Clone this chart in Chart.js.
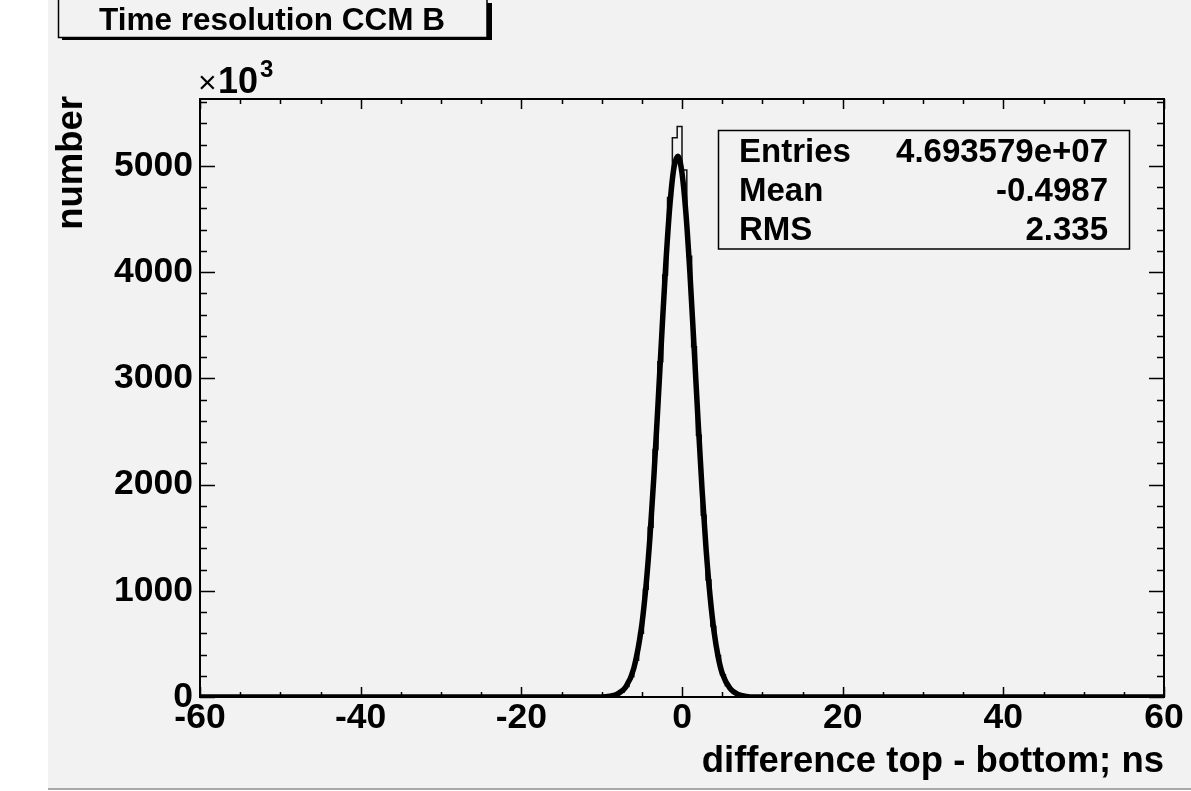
<!DOCTYPE html>
<html>
<head>
<meta charset="utf-8">
<script src="https://cdn.jsdelivr.net/npm/chart.js@4.4.0/dist/chart.umd.min.js"></script>
<style>
  html, body { margin: 0; padding: 0; background: #fff; }
  #pad { position: absolute; left: 48px; top: 0; width: 1143px; height: 788px;
         background: #f2f2f2; border-bottom: 2px solid #a9a9a9; }
  #c { position: absolute; left: 0; top: 0; }
</style>
</head>
<body>
<div id="pad"></div>
<canvas id="c" width="1191" height="791"></canvas>
<script>
// histogram: 0.6 ns bins, only the filled region (everything else is 0)
const binStart = -9.0
const binWidth = 0.6
const counts = [10, 22, 48, 100, 190, 345, 600, 1015, 1598, 2331, 3157, 3972, 4702, 5266, 5370,
                4962, 4150, 3298, 2465, 1710, 1102, 665, 390, 210, 105, 55, 25, 12, 5]

// gaussian fit
const fitX = [-60, -10, -9, -8, -7, -6, -5, -4.5, -4, -3.5, -3, -2.5, -2, -1.5, -1, -0.5,
              0, 0.5, 1, 1.5, 2, 2.5, 3, 3.5, 4, 4.5, 5, 6, 7, 8, 9, 60]
const fitY = [0, 0, 8, 30, 95, 270, 680, 1030, 1495, 2075, 2740, 3436, 4097, 4637, 4985, 5090,
              4933, 4542, 3972, 3298, 2600, 1950, 1390, 945, 610, 378, 225, 78, 24, 6, 0, 0]

const xTicks = [-60, -40, -20, 0, 20, 40, 60]
const yTicks = [0, 1000, 2000, 3000, 4000, 5000]

const title = 'Time resolution CCM B'
const statNames = ['Entries', 'Mean', 'RMS']
const statValues = ['4.693579e+07', '-0.4987', '2.335']

const FONT = '"Liberation Sans", Arial, Helvetica, sans-serif'

// step points for the histogram outline (value held from left edge to next edge)
const histPts = [{ x: -60, y: 0 }]
counts.forEach((c, i) => histPts.push({ x: binStart + i * binWidth, y: c }))
histPts.push({ x: binStart + counts.length * binWidth, y: 0 })
histPts.push({ x: 60, y: 0 })

const fitPts = fitX.map((x, i) => ({ x, y: fitY[i] }))

const rootDecor = {
    id: 'rootDecor',
    afterDatasetsDraw(chart) {
        const { ctx, chartArea: a, scales: { x, y } } = chart
        ctx.save()
        ctx.strokeStyle = '#000'
        ctx.lineWidth = 2
        ctx.strokeRect(a.left, a.top, a.right - a.left, a.bottom - a.top)

        // inward ticks on all four sides
        ctx.lineWidth = 1.5
        ctx.beginPath()
        for (let v = -60; v <= 60; v += 5) {
            const px = Math.round(x.getPixelForValue(v)) + 0.5
            const len = xTicks.includes(v) ? 10 : 5
            ctx.moveTo(px, a.bottom); ctx.lineTo(px, a.bottom - len)
            ctx.moveTo(px, a.top); ctx.lineTo(px, a.top + len)
        }
        for (let v = 0; v <= y.max; v += 200) {
            const py = Math.round(y.getPixelForValue(v)) + 0.5
            const len = yTicks.includes(v) ? 15 : 7
            ctx.moveTo(a.left, py); ctx.lineTo(a.left + len, py)
            ctx.moveTo(a.right, py); ctx.lineTo(a.right - len, py)
        }
        ctx.stroke()
        ctx.restore()
    },
    afterDraw(chart) {
        const { ctx, chartArea: a } = chart
        ctx.save()
        ctx.fillStyle = '#000'

        // title box with shadow
        ctx.fillRect(62, 3, 430, 37)
        ctx.fillStyle = '#f2f2f2'
        ctx.fillRect(58, -2, 429, 39)
        ctx.strokeStyle = '#000'
        ctx.lineWidth = 1.5
        ctx.strokeRect(58.5, -2, 428.5, 39.5)
        ctx.fillStyle = '#000'
        ctx.font = `bold 31.5px ${FONT}`
        ctx.textAlign = 'center'
        ctx.textBaseline = 'alphabetic'
        ctx.fillText(title, 272, 30)

        // stats box
        ctx.lineWidth = 1.5
        ctx.strokeRect(718.5, 130.5, 411, 118.5)
        ctx.font = `bold 33px ${FONT}`
        statNames.forEach((n, i) => {
            const by = 162 + i * 39
            ctx.textAlign = 'left'
            ctx.fillText(n, 739, by)
            ctx.textAlign = 'right'
            ctx.fillText(statValues[i], 1108, by)
        })

        // x10^3 multiplier
        ctx.textAlign = 'left'
        ctx.font = `32px ${FONT}`
        ctx.fillText('\u00d7', 198, 93)
        ctx.font = `bold 36px ${FONT}`
        ctx.fillText('10', 218, 93)
        ctx.font = `bold 24px ${FONT}`
        ctx.fillText('3', 260, 77)

        // axis titles
        ctx.font = `bold 36.5px ${FONT}`
        ctx.textAlign = 'right'
        ctx.fillText('difference top - bottom; ns', a.right, 772)
        ctx.save()
        ctx.translate(82, 96)
        ctx.rotate(-Math.PI / 2)
        ctx.fillText('number', 0, 0)
        ctx.restore()
        ctx.restore()
    }
}

new Chart(document.getElementById('c'), {
    type: 'line',
    data: {
        datasets: [
            {
                label: 'fit',
                data: fitPts,
                borderColor: '#000',
                borderWidth: 5.5,
                pointRadius: 0,
                cubicInterpolationMode: 'monotone',
                borderJoinStyle: 'round',
                fill: false
            },
            {
                label: 'hist',
                data: histPts,
                borderColor: '#111',
                borderWidth: 1.5,
                pointRadius: 0,
                stepped: 'before',
                fill: false
            }
        ]
    },
    options: {
        responsive: false,
        animation: false,
        devicePixelRatio: 1,
        layout: { padding: { left: 0, top: 99, right: 27, bottom: 0 } },
        plugins: { legend: { display: false }, tooltip: { enabled: false } },
        scales: {
            x: {
                type: 'linear',
                min: -60,
                max: 60,
                grid: { display: false, drawTicks: false },
                border: { display: false },
                ticks: {
                    color: '#000',
                    padding: 0,
                    includeBounds: false,
                    font: { family: FONT, size: 35.5, weight: 'bold' },
                    callback: v => String(v)
                },
                afterBuildTicks: s => { s.ticks = xTicks.map(v => ({ value: v })) },
                afterFit: s => { s.height = 94; s.paddingLeft = 0; s.paddingRight = 0 }
            },
            y: {
                type: 'linear',
                min: 0,
                max: 5630,
                grid: { display: false, drawTicks: false },
                border: { display: false },
                ticks: {
                    color: '#000',
                    padding: 7,
                    includeBounds: false,
                    font: { family: FONT, size: 35.5, weight: 'bold' },
                    callback: v => String(v)
                },
                afterBuildTicks: s => { s.ticks = yTicks.map(v => ({ value: v })) },
                afterFit: s => { s.width = 200; s.paddingTop = 0; s.paddingBottom = 0 }
            }
        }
    },
    plugins: [rootDecor]
})
</script>
</body>
</html>
